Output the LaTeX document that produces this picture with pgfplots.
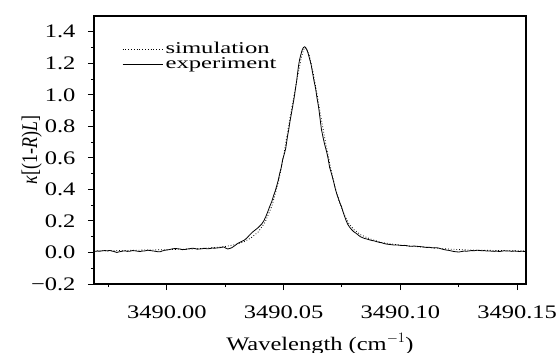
\documentclass[border=0pt]{standalone}
\usepackage{fontspec}
\setmainfont{Liberation Serif}
\newfontfamily\tickfont{Liberation Serif}[FakeStretch=1.28]
\newfontfamily\legfont{Liberation Serif}[FakeStretch=1.5]
\usepackage{graphicx}
\usepackage{pgfplots}
\pgfplotsset{compat=1.18}
\newcommand{\tl}[1]{\scalebox{1.28}[1]{\fontsize{19.2}{20}\selectfont #1}}
% x values are offsets from 3490.00 cm^-1
\pgfplotstableread{
x y
-0.0312 0.006
-0.0298 0.009
-0.0286 0.008
-0.0275 0.011
-0.0265 0.012
-0.0254 0.010
-0.0244 0.013
-0.0235 0.009
-0.0226 0.006
-0.0214 0.000
-0.0205 0.004
-0.0197 0.006
-0.0188 0.009
-0.0179 0.010
-0.0168 0.007
-0.0158 0.008
-0.0147 0.012
-0.0137 0.011
-0.0126 0.008
-0.0115 0.006
-0.0104 0.009
-0.0094 0.010
-0.0083 0.014
-0.0073 0.013
-0.0062 0.010
-0.0051 0.008
-0.0040 0.005
-0.0030 0.004
-0.0019 0.010
-0.0009 0.014
0.0002 0.016
0.0013 0.019
0.0024 0.023
0.0034 0.025
0.0045 0.024
0.0056 0.022
0.0066 0.018
0.0077 0.019
0.0088 0.022
0.0098 0.024
0.0109 0.027
0.0120 0.025
0.0130 0.021
0.0141 0.022
0.0152 0.024
0.0162 0.026
0.0173 0.023
0.0184 0.025
0.0195 0.028
0.0205 0.027
0.0216 0.029
0.0226 0.030
0.0235 0.033
0.0244 0.035
0.0252 0.028
0.0261 0.022
0.0270 0.026
0.0278 0.030
0.0286 0.038
0.0295 0.048
0.0303 0.057
0.0312 0.064
0.0320 0.070
0.0329 0.076
0.0337 0.084
0.0346 0.097
0.0355 0.112
0.0366 0.128
0.0376 0.140
0.0389 0.155
0.0398 0.168
0.0406 0.180
0.0415 0.200
0.0423 0.225
0.0432 0.258
0.0440 0.290
0.0449 0.322
0.0457 0.360
0.0464 0.390
0.0470 0.420
0.0477 0.458
0.0483 0.500
0.0490 0.540
0.0496 0.590
0.0503 0.625
0.0509 0.660
0.0513 0.700
0.0517 0.740
0.0522 0.780
0.0526 0.820
0.0532 0.870
0.0538 0.920
0.0545 0.980
0.0551 1.040
0.0556 1.090
0.0560 1.140
0.0564 1.185
0.0568 1.220
0.0573 1.250
0.0577 1.272
0.0581 1.290
0.0585 1.300
0.0590 1.305
0.0594 1.300
0.0598 1.290
0.0603 1.272
0.0607 1.252
0.0611 1.230
0.0618 1.190
0.0624 1.140
0.0630 1.090
0.0637 1.040
0.0643 0.980
0.0650 0.920
0.0656 0.850
0.0662 0.780
0.0669 0.730
0.0675 0.690
0.0684 0.640
0.0690 0.600
0.0697 0.540
0.0705 0.500
0.0714 0.450
0.0722 0.400
0.0728 0.370
0.0735 0.340
0.0741 0.315
0.0748 0.290
0.0754 0.260
0.0761 0.230
0.0767 0.205
0.0774 0.180
0.0782 0.162
0.0791 0.145
0.0800 0.132
0.0812 0.120
0.0820 0.110
0.0829 0.100
0.0838 0.094
0.0846 0.089
0.0857 0.085
0.0868 0.080
0.0878 0.076
0.0889 0.073
0.0900 0.068
0.0910 0.064
0.0921 0.061
0.0932 0.056
0.0942 0.053
0.0953 0.051
0.0964 0.049
0.0974 0.047
0.0985 0.048
0.0996 0.046
0.1006 0.044
0.1017 0.045
0.1028 0.043
0.1038 0.040
0.1049 0.039
0.1060 0.041
0.1070 0.039
0.1081 0.038
0.1092 0.036
0.1102 0.034
0.1113 0.032
0.1124 0.033
0.1134 0.030
0.1145 0.029
0.1156 0.030
0.1166 0.027
0.1177 0.022
0.1188 0.018
0.1198 0.015
0.1209 0.013
0.1220 0.009
0.1230 0.006
0.1241 0.004
0.1252 0.003
0.1262 0.006
0.1273 0.009
0.1284 0.008
0.1295 0.010
0.1306 0.012
0.1316 0.011
0.1327 0.014
0.1338 0.013
0.1348 0.011
0.1359 0.012
0.1370 0.009
0.1380 0.010
0.1391 0.008
0.1402 0.007
0.1412 0.009
0.1423 0.006
0.1434 0.008
0.1444 0.011
0.1455 0.009
0.1466 0.010
0.1477 0.007
0.1487 0.009
0.1498 0.008
0.1509 0.006
0.1520 0.008
0.1534 0.006
}\experiment
\pgfplotstableread{
x y
-0.0312 0.010
-0.0200 0.012
-0.0100 0.015
0.0000 0.018
0.0100 0.022
0.0200 0.030
0.0250 0.038
0.0300 0.052
0.0330 0.068
0.0360 0.092
0.0390 0.128
0.0420 0.190
0.0450 0.295
0.0480 0.460
0.0500 0.615
0.0520 0.790
0.0540 0.960
0.0560 1.120
0.0575 1.230
0.0585 1.285
0.0592 1.300
0.0600 1.290
0.0610 1.250
0.0625 1.150
0.0640 1.030
0.0655 0.900
0.0670 0.775
0.0685 0.655
0.0700 0.545
0.0720 0.415
0.0740 0.315
0.0760 0.238
0.0780 0.182
0.0800 0.146
0.0830 0.112
0.0870 0.086
0.0920 0.063
0.1000 0.046
0.1100 0.034
0.1200 0.022
0.1300 0.015
0.1534 0.010
}\simulation
\begin{document}
\begin{tikzpicture}
\begin{axis}[
  name=ax,
  scale only axis,
  width=432bp, height=268bp,
  xmin=-0.0312, xmax=0.1538,
  ymin=-0.2, ymax=1.5,
  axis line style={line width=1.1bp},
  tick style={line width=1bp, black},
  tick align=outside,
  xtick pos=bottom, ytick pos=left,
  major tick length=6bp,
  minor tick length=3bp,
  xtick={0,0.05,0.10,0.15},
  xticklabels={\tl{3490.00},\tl{3490.05},\tl{3490.10},\tl{3490.15}},
  minor xtick={-0.025,0.025,0.075,0.125},
  ytick={-0.2,0,0.2,0.4,0.6,0.8,1.0,1.2,1.4},
  yticklabels={\tl{−0.2},\tl{0.0},\tl{0.2},\tl{0.4},\tl{0.6},\tl{0.8},\tl{1.0},\tl{1.2},\tl{1.4}},
  minor ytick={-0.1,0.1,0.3,0.5,0.7,0.9,1.1,1.3},
  xticklabel style={anchor=base, yshift=-28bp},
  yticklabel style={xshift=-9bp},
  xlabel={Wavelength (cm$^{-1}$)},
  xlabel style={font=\fontsize{19.2}{20}\tickfont, at={(axis description cs:0.523,0)}, anchor=base, yshift=-66bp},
  ylabel={\scalebox{1}[1.25]{\textit{κ}[(1-\textit{R})\textit{L}]}},
  ylabel style={font=\fontsize{18}{20}\selectfont, at={(axis description cs:-0.144,0.5)}, anchor=center},
  legend style={draw=none, fill=none, inner sep=0pt, at={(0.065,0.903)}, anchor=north west,
    font=\fontsize{16.5}{15}\legfont, row sep=0pt,
    nodes={inner ysep=0pt, inner xsep=2.5bp, text height=11bp, text depth=4bp}},
  legend cell align=left,
  legend image code/.code={\draw[#1] (0bp,0bp) -- (40bp,0bp);},
]
\addplot[black, line width=0.8bp, dotted] table[x=x,y=y] {\simulation};
\addlegendentry{simulation}
\addplot[black, line width=0.8bp] table[x=x,y=y] {\experiment};
\addlegendentry{experiment}
\end{axis}
\pgfresetboundingbox
\path ([xshift=-94bp,yshift=-69bp]ax.south west) rectangle ([xshift=31bp,yshift=16bp]ax.north east);
\end{tikzpicture}
\end{document}
